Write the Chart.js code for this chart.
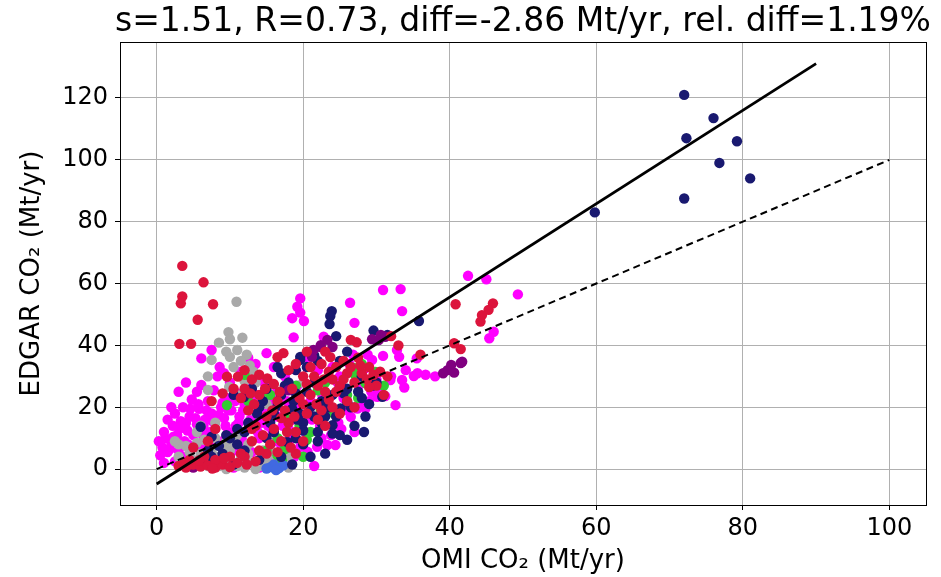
<!DOCTYPE html>
<html>
<head>
<meta charset="utf-8">
<script src="https://cdn.jsdelivr.net/npm/chart.js@4.4.0/dist/chart.umd.min.js"></script>
<style>body{margin:0;background:#fff}</style>
</head>
<body>
<canvas id="mychart" width="941" height="577"></canvas>
<script>
// tick values and reference lines
var xTicks = [0, 20, 40, 60, 80, 100];
var yTicks = [0, 20, 40, 60, 80, 100, 120];
var fitLine = [[0, -4.8], [90, 131.1]];
var oneToOne = [[0, 0], [100, 100]];
var titleText = 's=1.51, R=0.73, diff=-2.86 Mt/yr, rel. diff=1.19%';

// scatter groups, [OMI, EDGAR] in Mt/yr
var magentaPts = [[0.5,4.5],[0.8,7],[1.2,10],[1.5,5.5],[2,8.5],[2.2,14],[2.5,18],[2.8,11],[3,6],[3.3,15.5],[3.6,20],[3.8,9],[4.2,12.5],[4.5,17],[4.8,22.5],[5.2,7.5],[5.5,14.5],[5.5,25],[5.8,19.5],[6.1,27.2],[6.1,35.8],[6.3,11],[6.6,16],[7,22],[7.2,8],[7.5,38.5],[7.5,18],[7.8,25.5],[8,13],[8.3,30],[8.6,33],[8.8,20],[9,9],[9.2,16.5],[9.5,23],[9.8,12],[10,28],[10.2,19],[10.5,6],[10.8,14],[11,24.5],[11.3,17],[11.6,10],[12,21],[12.3,27],[12.6,13.5],[13,5.5],[13.2,18],[13.5,24],[14,10],[14.3,15],[14.7,28],[15,20],[15.3,2.5],[15.8,12.5],[16.2,24.5],[16.5,17],[17,8],[17.5,30],[18,13],[18.3,20],[18.8,4],[19.2,27],[19.6,7.2],[20,17],[20.6,5.6],[21,22],[21.9,7.2],[22.3,14],[23.3,7.8],[23.5,19],[24.4,7.8],[24.8,15],[25.5,23],[26.5,16.9],[27.4,19.6],[28.5,19.6],[30.1,23.4],[25,30],[26.3,34],[27.6,27],[28.4,32.5],[29.4,35.3],[30,29],[31.2,23.6],[32.6,20.7],[31.9,28.8],[33.5,28.8],[33.8,26.4],[35.1,30.1],[35.6,31],[36.7,30.5],[38,30],[30.9,36.6],[32.8,38.5],[33.1,36.3],[35.5,35.8],[46,44.4],[45.4,42.3],[42.5,62.5],[45,61.4],[49.3,56.5],[30.9,57.9],[33.3,58.2],[33.5,51.1],[19.6,55.2],[19.2,52.5],[19.6,50.6],[18.5,48.8],[20.1,47.9],[26.4,53.8],[27,47.3],[22.8,42.8],[18.7,42.6],[20.5,36],[24,33],[16,33],[13.5,34],[11.5,31.5],[4,28],[3,25],[1.5,16],[2.5,2.5],[7,3.5],[21.5,1],[22.5,10],[18.5,10],[27,12],[29,22],
    [1,12],[1.8,6.5],[2.3,10.5],[3.1,13],[3.5,4],[4,15],[4.3,8],[4.6,19.5],[5,11],[5.3,16.5],[5.7,21],[6,7],[6.4,14],[6.8,19],[7.3,12],[7.6,15.5],[8.2,8],[8.5,17.5],[9,21.5],[9.4,14],[9.8,19],[10.3,11],[10.7,22],[11.2,15],[11.8,19],[12.2,8],[12.8,16],[13.4,21],[13.8,12],[14.5,18],[15.2,14],[15.6,22.5],[16.4,9],[17.2,14],[17.8,22],[18.6,16],[19.5,21],[20.3,12],[21.2,16],[22.6,24],[23.8,11],[25.2,13],[26,19],[27.8,22],[29.3,25],[30.5,26],[32,30],[34,32],[24.7,28],[26.8,37],[28.8,37],[22,32],[15,37.5],[12.5,36],[9.2,31],[2,20],[1,2],[3.4,1.5],[0.3,9],[10.5,0.5],[14,0.5]];
var grayPts = [[10.9,54.1],[9.8,44.3],[8.5,40.9],[10,42],[11.7,42.5],[11,38.5],[10,36.3],[12.3,37],[7.5,35.3],[12.7,33.5],[12.4,32],[13.2,31.5],[9.9,26.6],[7,25.6],[7,30],[11,24],[13,19],[6,5],[7,3],[8,4],[9,2],[10,3],[11,1],[12,0.5],[13,2],[14,1],[15,3],[16.2,4.5],[16.9,5.2],[5,3],[4,7.5],[5.5,8.5],[3,8],[8,10],[9.5,9],[11,11],[12.5,8],[10,6],[7,1],[9.5,0],[14.5,6],[16,1],[17,2],[18,4],[3.5,2],[6,14],[20,28],[15,21],[5.5,12],[18,0.5],
    [4.5,5.5],[6.5,9.5],[7.5,6],[8.5,1],[9,7],[10.5,8.5],[11.5,3.5],[12.5,5],[13.5,0],[14.5,3],[15.5,6.5],[3,4],[2.5,9],[8,15],[9.5,38],[11.5,35],[13.5,28],[10.5,33],[12,28.5]];
var greenPts = [[17.1,2.9],[16.5,4.5],[15,6],[16.5,10],[18,16],[21,12],[22.4,19.1],[24.1,18.1],[26,24],[26.9,32.7],[27.1,30.4],[29.9,31.4],[28.5,27.8],[19,27],[9.6,20.7],[14.2,24],[23,28],[20,4],[12,30.5],
    [19.5,14],[20.5,9.5],[22,25.5],[25,26.5],[27.5,23],[28,34],[31,27],[12.5,22],[15.5,24],[17.5,6.5],[16,0.5]];
var bluePts = [[15.6,0.7],[16.7,0.3],[16,1.5],[17.3,1.2],[15,0.2],[16.3,-0.3]];
var navyPts = [[72,121],[72.3,107],[76,113.5],[76.8,99],[79.2,106],[81,94],[72,87.5],[59.8,83],[35.8,47.9],[23.9,51.1],[23.7,49.5],[23.6,46.9],[29.6,44.8],[19.6,36.3],[21.5,36.8],[19.6,35.3],[16.5,33],[31.5,43.4],[30.8,23.4],[18.7,22],[19.5,18],[20,15],[21,20],[22,12],[24,14.2],[25.1,19.6],[26,21.8],[17.8,8.8],[19,10],[20.5,25],[21.5,28],[22.5,22],[23,17],[18,28],[17,24],[16,18],[15,26],[14,20],[13.7,18],[12,12],[11,8],[9,5],[8,2],[7,6],[6,3],[5,1],[10,10],[12,6],[14,3],[16,12],[19.2,16],[24,24],[26,26],[28,23],[29,21],[30,28],[19,32],[17,31],[11.9,23.3],[20,8],[21,4],[23,5],[25,11],[27,14],[28.5,17],[15,10],[6,13.7],[7.5,10.5],[10.5,24],[25,35],[24.5,43],[26,38],
    [13,26],[14.5,22],[15.5,15],[16.5,20.5],[17.5,27],[18.5,19.5],[20,12.5],[21.5,17],[22.5,15],[23.5,20],[24.5,17],[25.5,24.5],[26.5,20],[27.5,25],[28,30],[29.5,27],[19,24.5],[20.5,33],[22,35],[12.5,15],[11,13],[9.5,11],[8.5,7.5],[7.5,4],[10.5,1.5],[4.5,2],[17,4],[18.5,1.5],[22,9],[26,9.5],[28.3,12],[24,11.5]];
var purplePts = [[21.4,38.5],[22.4,40.1],[23.3,41.8],[24,39.5],[21,37.9],[21.2,36.3],[22.4,39.5],[29.4,42],[30.6,43.4],[30.3,41.7],[31.2,42.8],[39.7,32],[41.5,34.3],[39.1,31],[40.6,31.2],[40.2,33.7],[41.7,34.7],[5,0.5],[18,25.5]];
var crimsonPts = [[3.5,65.7],[6.4,60.4],[3.5,55.8],[3.3,53.6],[7.7,53.3],[5.6,48.3],[3.1,40.5],[4.7,40.5],[9.6,29.9],[11.1,29.9],[13,29],[15.1,29.3],[12,26],[14,24],[8,13],[7.5,22],[12.5,19],[13.5,14],[15,17],[16,13],[17,9],[15.5,8],[14.5,11],[18,15],[17.5,19],[19,12],[16.5,22],[18.5,26],[20,21],[21,24],[22,27],[21.5,30],[23,25],[24,29],[25,27],[26,31],[27,28],[24.5,33],[22.5,34],[25.5,35],[27.5,36],[29,33],[30,27],[28,31],[20,30],[19,34],[17.3,37.5],[16.5,36.2],[23.7,36.2],[26.5,41.8],[27.3,41],[23,38],[20.5,38],[3,1],[4,0.5],[5,1.5],[6,0.8],[7,1.2],[8,0.5],[9,1.5],[10,0.7],[4.5,3],[6.5,4],[8,3],[11,2],[12,4],[13.5,2.5],[5,7],[7,9],[40.8,53.3],[45.9,53.6],[45.3,51.5],[44.4,49.8],[44.2,47.7],[40.6,40.7],[41.5,38.8],[32,43],[33,40],[31,24],[36,37],[20,9],[19,5],[22,16],[24,20],[23,14],[26,22],[10,4],[15,5],
    [10.5,26],[11.5,23],[12.8,24.5],[13.3,21],[14.8,26],[15.8,19],[16.8,25],[17.8,12],[18.8,17],[19.5,23],[20.5,27.5],[21.8,21],[22.8,29],[23.5,31.5],[24.5,25],[25.5,29],[26.5,33],[27.8,33.5],[28.7,29],[29.6,30.5],[30.5,31.5],[31.5,30],[21,33],[18,32],[16,27.5],[14,30.5],[12,32],[9,24.5],[13,9],[14,6],[16.5,5.5],[18.3,7],[3.8,2],[5.8,2.8],[7.6,0.2],[9.2,3.6],[11.5,5],[12.3,1.5],[13,13],[17,16.5],[20.5,18],[22.5,19],[25,18],[27,20],[29,26.5],[23.5,22.5]];

function toXY(arr) {
    return arr.map(function (p) { return { x: p[0], y: p[1] }; });
}

function dots(label, pts, color, order) {
    return {
        label: label,
        data: toXY(pts),
        backgroundColor: color,
        borderWidth: 0,
        pointRadius: 5.2,
        pointHoverRadius: 5.2,
        order: order
    };
}

// axes box and title, matplotlib style
var frameAndTitle = {
    id: 'frameAndTitle',
    afterDatasetsDraw: function (chart) {
        var a = chart.chartArea, c = chart.ctx;
        c.save();
        c.strokeStyle = '#000';
        c.lineWidth = 1;
        c.strokeRect(Math.round(a.left) + 0.5, Math.round(a.top) + 0.5, Math.round(a.right - a.left), Math.round(a.bottom - a.top));
        c.restore();
    },
    afterDraw: function (chart) {
        var a = chart.chartArea, c = chart.ctx;
        c.save();
        c.fillStyle = '#000';
        c.font = '33px "DejaVu Sans"';
        c.textAlign = 'center';
        c.textBaseline = 'alphabetic';
        c.fillText(titleText, (a.left + a.right) / 2, 31);
        c.restore();
    }
};

var ctx = document.getElementById('mychart').getContext('2d');
var mychart = new Chart(ctx, {
    type: 'scatter',
    data: {
        datasets: [
            { label: 'fit', data: toXY(fitLine), showLine: true, borderColor: '#000', borderWidth: 2.8, pointRadius: 0, fill: false, order: 0 },
            { label: '1:1', data: toXY(oneToOne), showLine: true, borderColor: '#000', borderWidth: 2, borderDash: [7, 4.5], pointRadius: 0, fill: false, order: 0 },
            dots('crimson', crimsonPts, '#dc143c', 1),
            dots('purple', purplePts, '#800080', 2),
            dots('navy', navyPts, '#191970', 3),
            dots('blue', bluePts, '#4169e1', 4),
            dots('green', greenPts, '#32cd32', 5),
            dots('gray', grayPts, '#a9a9a9', 6),
            dots('magenta', magentaPts, '#ff00ff', 7)
        ]
    },
    plugins: [frameAndTitle],
    options: {
        responsive: false,
        animation: false,
        layout: { padding: { top: 42, right: 15, left: 0, bottom: 0 } },
        plugins: { legend: { display: false }, tooltip: { enabled: false } },
        scales: {
            x: {
                type: 'linear',
                min: -5,
                max: 105,
                afterBuildTicks: function (scale) { scale.ticks = xTicks.map(function (v) { return { value: v }; }); },
                afterFit: function (scale) { scale.height = 72; },
                grid: { color: '#b0b0b0', lineWidth: 1, tickLength: 5, tickColor: '#000' },
                border: { display: false },
                ticks: { color: '#000', font: { family: 'DejaVu Sans', size: 24 }, padding: 4, maxRotation: 0 },
                title: { display: true, text: 'OMI CO₂ (Mt/yr)', color: '#000', font: { family: 'DejaVu Sans', size: 26 }, padding: 0 }
            },
            y: {
                type: 'linear',
                min: -11.6,
                max: 138.1,
                afterBuildTicks: function (scale) { scale.ticks = yTicks.map(function (v) { return { value: v }; }); },
                afterFit: function (scale) { scale.width = 120; },
                grid: { color: '#b0b0b0', lineWidth: 1, tickLength: 5, tickColor: '#000' },
                border: { display: false },
                ticks: { color: '#000', font: { family: 'DejaVu Sans', size: 24 }, padding: 7 },
                title: { display: true, text: 'EDGAR CO₂ (Mt/yr)', color: '#000', font: { family: 'DejaVu Sans', size: 26 }, padding: { top: 17, bottom: 0 } }
            }
        }
    }
});
</script>
</body>
</html>
